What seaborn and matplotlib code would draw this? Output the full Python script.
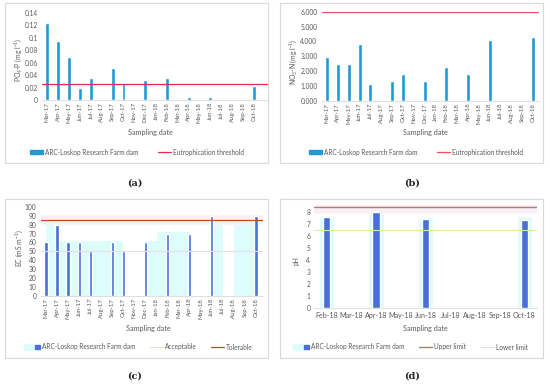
import numpy as np
import pandas as pd
import matplotlib
matplotlib.use("Agg")
import matplotlib.pyplot as plt
from matplotlib.patches import Rectangle, Patch
from matplotlib.lines import Line2D
from matplotlib.legend_handler import HandlerPatch, HandlerTuple
import seaborn as sns

# ---------------- data ----------------
months = ["Mar-17", "Apr-17", "May-17", "Jun-17", "Jul-17", "Aug-17", "Sep-17",
          "Oct-17", "Nov-17", "Dec-17", "Jan-18", "Feb-18", "Mar-18", "Apr-18",
          "May-18", "Jun-18", "Jul-18", "Aug-18", "Sep-18", "Oct-18"]
po4 = [0.124, 0.094, 0.069, 0.019, 0.035, 0, 0.051, 0.028, 0, 0.032, 0, 0.035,
       0, 0.005, 0, 0.005, 0, 0, 0, 0.023]
po4_threshold = 0.025
no3 = [2.92, 2.50, 2.50, 3.85, 1.10, 0, 1.33, 1.80, 0, 1.33, 0, 2.25,
       0, 1.80, 0, 4.08, 0, 0, 0, 4.30]
no3_threshold = 6.0
ec = [60, 80, 60, 60, 50, 0, 60, 50, 0, 60, 0, 70, 0, 70, 0, 90, 0, 0, 0, 90]
ec_glow = [80, 62, 62, 62, 62, 62, 62, 0, 0, 62, 72, 72, 72, 0, 0, 80, 0, 80, 80, 0]
ec_acceptable = 50
ec_tolerable = 85
months_ph = ["Feb-18", "Mar-18", "Apr-18", "May-18", "Jun-18", "Jul-18",
             "Aug-18", "Sep-18", "Oct-18"]
ph = [7.6, 0, 8.0, 0, 7.45, 0, 0, 0, 7.35]
ph_glow = [7.7, 0, 8.3, 0, 7.6, 0, 0, 0, 7.7]
ph_upper = 8.4
ph_lower = 6.5

series_name = "ARC-Loskop Research Farm dam"

# ---------------- style ----------------
sns.set_theme(style="white")
plt.rcParams["font.family"] = ["Lato", "DejaVu Sans"]
plt.rcParams["mathtext.default"] = "regular"

W, H = 550, 386
fig = plt.figure(figsize=(W / 100, H / 100), dpi=100)
fig.patch.set_facecolor("white")

TICK_C = "#595959"
BLUE_AB = "#1E9AD6"
BLUE_CD = "#4A6FD6"
GLOW = "#DDFDFD"
RED = "#F2284A"
XT_FS = 4.3
YT_FS = 4.8
LBL_FS = 5.2
LEG_FS = 4.7


def px_axes(l, t, r, b):
    return fig.add_axes([l / W, 1 - b / H, (r - l) / W, (b - t) / H])


def box(l, t, r, b):
    fig.patches.append(Rectangle((l / W, 1 - b / H), (r - l) / W, (b - t) / H,
                                 transform=fig.transFigure, fill=False,
                                 edgecolor="#D9D9D9", linewidth=0.8))


def style_ax(ax, rot):
    for s in ["top", "right", "left"]:
        ax.spines[s].set_visible(False)
    ax.spines["bottom"].set_color("#D9D9D9")
    ax.spines["bottom"].set_linewidth(0.6)
    ax.tick_params(axis="y", length=0, labelsize=YT_FS, labelcolor=TICK_C, pad=3)
    ax.tick_params(axis="x", length=0, labelsize=XT_FS, labelcolor=TICK_C, pad=1.5,
                   rotation=rot)
    ax.set_xlabel("")
    ax.set_ylabel("")
    ax.grid(False)
    ax.set_facecolor("white")


def ftext(x, y, s, **kw):
    fig.text(x / W, 1 - y / H, s, ha="center", va="center", **kw)


# boxes
box(5, 3, 268, 163)
box(280, 3, 543, 163)
box(5, 199, 268, 358)
box(280, 199, 543, 358)

# ---------------- (a) ----------------
axa = px_axes(42, 12.7, 269, 100)
dfa = pd.DataFrame({"month": months, "value": po4})
sns.barplot(data=dfa, x="month", y="value", order=months, color=BLUE_AB,
            width=0.36, saturation=1, ax=axa)
axa.axhline(po4_threshold, color=RED, lw=0.9)
axa.set_ylim(0, 0.14)
axa.set_yticks(np.arange(0, 0.141, 0.02))
axa.set_yticklabels(["0", "0.02", "0.04", "0.06", "0.08", "0.1", "0.12", "0.14"])
axa.set_xlim(-0.5, 20.4)
style_ax(axa, 90)
ftext(18, 60, "PO$_4$-P (mg l$^{-1}$)", rotation=90, fontsize=LBL_FS - 0.3, color=TICK_C)
ftext(150, 133, "Sampling date", fontsize=LBL_FS, color=TICK_C)
fig.legend(handles=[Patch(color=BLUE_AB, label=series_name),
                    Line2D([], [], color=RED, lw=0.9, label="Eutrophication threshold")],
           loc="center", bbox_to_anchor=(137 / W, 1 - 152 / H), ncol=2, frameon=False,
           fontsize=LEG_FS, handlelength=2.0, handleheight=0.5, columnspacing=3.0,
           handletextpad=0.3, labelcolor=TICK_C)

# ---------------- (b) ----------------
axb = px_axes(321.6, 11.7, 538.5, 100.7)
dfb = pd.DataFrame({"month": months, "value": no3})
sns.barplot(data=dfb, x="month", y="value", order=months, color=BLUE_AB,
            width=0.36, saturation=1, ax=axb)
axb.axhline(no3_threshold, color="#F04A5E", lw=0.9)
axb.set_ylim(0, 6.0)
axb.set_yticks(np.arange(0, 6.01, 1))
axb.set_yticklabels([f"{v:.3f}" for v in np.arange(0, 6.01, 1)])
axb.set_xlim(-0.5, 19.5)
style_ax(axb, 90)
ftext(293, 62, "NO$_3$-N (mg l$^{-1}$)", rotation=90, fontsize=LBL_FS - 0.3, color=TICK_C)
ftext(425, 133, "Sampling date", fontsize=LBL_FS, color=TICK_C)
fig.legend(handles=[Patch(color=BLUE_AB, label=series_name),
                    Line2D([], [], color="#F04A5E", lw=0.9, label="Eutrophication threshold")],
           loc="center", bbox_to_anchor=(416 / W, 1 - 152 / H), ncol=2, frameon=False,
           fontsize=LEG_FS, handlelength=2.0, handleheight=0.5, columnspacing=3.0,
           handletextpad=0.3, labelcolor=TICK_C)


def wide_glow(legend, orig_handle, xdescent, ydescent, width, height, fontsize):
    return Rectangle((-xdescent - 0.55 * width, -ydescent - 0.35 * height),
                     width * 1.75, height * 1.7)


# ---------------- (c) ----------------
axc = px_axes(40.5, 207, 263, 295.7)
axc.bar(np.arange(len(months)) + 0.5, ec_glow, width=1.0, color=GLOW, linewidth=0,
        zorder=0)
dfc = pd.DataFrame({"month": months, "value": ec})
sns.barplot(data=dfc, x="month", y="value", order=months, color=BLUE_CD,
            width=0.3, saturation=1, ax=axc, zorder=2)
axc.axhline(ec_tolerable, color="#FBEFF6", lw=7, zorder=1)
axc.axhline(ec_acceptable, color="#E5ECA6", lw=0.8, zorder=3)
axc.axhline(ec_tolerable, color="#B3532E", lw=0.9, zorder=3)
axc.set_ylim(0, 100)
axc.set_yticks(np.arange(0, 101, 10))
axc.set_xlim(-0.5, 19.64)
style_ax(axc, 90)
ftext(19, 248, "EC (mS m$^{-1}$)", rotation=90, fontsize=LBL_FS - 0.3, color=TICK_C)
ftext(148, 328, "Sampling date", fontsize=LBL_FS, color=TICK_C)
gc = Patch(color=GLOW)
bc = Patch(color=BLUE_CD)
fig.legend(handles=[(gc, bc), Line2D([], [], color="#E5ECA6", lw=0.8),
                    Line2D([], [], color="#B3532E", lw=0.9)],
           labels=[series_name, "Acceptable", "Tolerable"],
           handler_map={tuple: HandlerTuple(ndivide=None),
                        gc: HandlerPatch(patch_func=wide_glow)},
           loc="center", bbox_to_anchor=(140 / W, 1 - 347 / H), ncol=3, frameon=False,
           fontsize=LEG_FS, handlelength=2.0, handleheight=0.5, columnspacing=2.2,
           handletextpad=0.3, labelcolor=TICK_C)

# ---------------- (d) ----------------
axd = px_axes(314.3, 205, 536.7, 308)
dfd = pd.DataFrame({"month": months_ph, "value": ph, "glow": ph_glow})
sns.barplot(data=dfd, x="month", y="glow", order=months_ph, color=GLOW,
            width=0.62, saturation=1, ax=axd, zorder=0)
sns.barplot(data=dfd, x="month", y="value", order=months_ph, color=BLUE_CD,
            width=0.3, saturation=1, ax=axd, zorder=2)
axd.axhline(ph_upper, color="#FBEFF6", lw=9, zorder=1)
axd.axhline(ph_upper, color="#A6826A", lw=1.0, zorder=3)
axd.axhline(ph_lower, color="#E6EBA2", lw=0.8, zorder=3)
axd.set_ylim(0, 8.6)
axd.set_yticks(np.arange(0, 8.1, 1))
axd.set_xlim(-0.5, 8.5)
style_ax(axd, 0)
axd.tick_params(axis="x", labelsize=YT_FS + 0.3, pad=3)
ftext(296, 261, "pH", rotation=90, fontsize=LBL_FS - 0.3, color=TICK_C)
ftext(425, 328, "Sampling date", fontsize=LBL_FS, color=TICK_C)
gd = Patch(color=GLOW)
bd = Patch(color=BLUE_CD)
fig.legend(handles=[(gd, bd), Line2D([], [], color="#A6826A", lw=1.0),
                    Line2D([], [], color="#E6EBA2", lw=0.8)],
           labels=[series_name, "Upper limit", "Lower limit"],
           handler_map={tuple: HandlerTuple(ndivide=None),
                        gd: HandlerPatch(patch_func=wide_glow)},
           loc="center", bbox_to_anchor=(412 / W, 1 - 347 / H), ncol=3, frameon=False,
           fontsize=LEG_FS, handlelength=2.0, handleheight=0.5, columnspacing=2.2,
           handletextpad=0.3, labelcolor=TICK_C)

# ---------------- captions ----------------
for (x, y, s) in [(135, 183, "(a)"), (412, 183, "(b)"), (135, 376, "(c)"), (412, 376, "(d)")]:
    ftext(x, y, s, fontsize=7, fontweight="bold", family=["DejaVu Serif"], color="#222222")

fig.savefig("out.png", dpi=100, facecolor="white")
